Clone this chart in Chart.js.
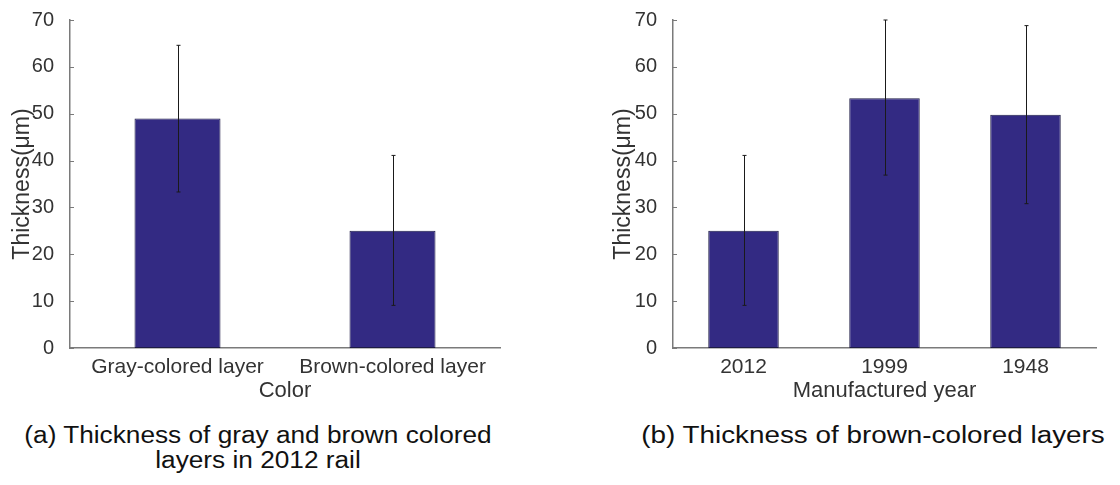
<!DOCTYPE html>
<html>
<head>
<meta charset="utf-8">
<script src="https://cdn.jsdelivr.net/npm/chart.js@4/dist/chart.umd.min.js"></script>
<style>
  body { margin: 0; background: #fff; }
  #page { position: relative; width: 1120px; height: 485px; overflow: hidden; font-family: "Liberation Sans", Arial, sans-serif; }
  .box { position: absolute; top: 0; height: 410px; }
  .cap { position: absolute; color: #111; font-size: 23px; line-height: 25px; text-align: center; white-space: nowrap; transform: scaleX(1.14); }
</style>
</head>
<body>
<div id="page">
  <div class="box" style="left:0; width:510px;"><canvas id="chartA"></canvas></div>
  <div class="box" style="left:590px; width:530px;"><canvas id="chartB"></canvas></div>
  <div class="cap" style="left:0; width:516px; top:423px;">(a) Thickness of gray and brown colored<br>layers in 2012 rail</div>
  <div class="cap" style="left:646px; width:454px; top:423px; transform: scaleX(1.21);">(b) Thickness of brown-colored layers</div>
</div>
<script>
// ===== data =====
const colorCats  = ['Gray-colored layer', 'Brown-colored layer'];
const colorMeans = [49.0, 25.0];
const colorLow   = [33.3, 9.1];
const colorHigh  = [64.6, 41.1];

const yearCats  = ['2012', '1999', '1948'];
const yearMeans = [25.0, 53.3, 49.8];
const yearLow   = [9.1, 36.9, 30.8];
const yearHigh  = [41.1, 70.0, 68.8];

const yMin = 0, yMax = 70, yStep = 10;

const FONT = '"Liberation Sans", Arial, sans-serif';
const BAR_FILL = '#332a83';
const BAR_EDGE = '#1d1b45';
const AXIS_COL = '#7a7a7a';
const TEXT_COL = '#333';

// error bars, drawn on top of the bars
function errorBars(lows, highs) {
  return {
    id: 'errorBars',
    afterDatasetsDraw(chart) {
      const { ctx, scales: { y } } = chart;
      const bars = chart.getDatasetMeta(0).data;
      ctx.save();
      ctx.strokeStyle = '#1a1a1a';
      ctx.lineWidth = 1;
      bars.forEach((bar, i) => {
        const x = Math.round(bar.x) + 0.5;
        const yt = y.getPixelForValue(highs[i]);
        const yb = y.getPixelForValue(lows[i]);
        ctx.beginPath();
        ctx.moveTo(x, yt); ctx.lineTo(x, yb);
        ctx.moveTo(x - 2, yt); ctx.lineTo(x + 2, yt);
        ctx.moveTo(x - 2, yb); ctx.lineTo(x + 2, yb);
        ctx.stroke();
      });
      ctx.restore();
    }
  };
}

// small tick marks pointing into the plot
const inwardTicks = {
  id: 'inwardTicks',
  afterDraw(chart) {
    const { ctx, scales: { y } } = chart;
    ctx.save();
    ctx.strokeStyle = AXIS_COL;
    ctx.lineWidth = 1;
    y.ticks.forEach(t => {
      const py = Math.round(y.getPixelForValue(t.value)) + 0.5;
      ctx.beginPath();
      ctx.moveTo(y.right, py); ctx.lineTo(y.right + 4, py);
      ctx.stroke();
    });
    ctx.restore();
  }
};

function makeChart(id, cats, means, lows, highs, opts) {
  const ctx = document.getElementById(id).getContext('2d');
  return new Chart(ctx, {
    type: 'bar',
    data: {
      labels: cats,
      datasets: [{
        data: means,
        backgroundColor: BAR_FILL,
        borderColor: BAR_EDGE,
        borderWidth: 1,
        borderSkipped: false,
        categoryPercentage: 1.0,
        barPercentage: opts.barPct
      }]
    },
    options: {
      responsive: true,
      maintainAspectRatio: false,
      animation: false,
      layout: { padding: { top: opts.padTop, right: opts.padRight, left: 0, bottom: 0 } },
      plugins: { legend: { display: false }, tooltip: { enabled: false } },
      scales: {
        x: {
          grid: { display: false },
          border: { display: true, color: AXIS_COL, width: 1.5 },
          ticks: { color: TEXT_COL, font: { family: FONT, size: 21 }, padding: -1, maxRotation: 0, autoSkip: false },
          title: { display: true, text: opts.xTitle, color: TEXT_COL, font: { family: FONT, size: 22 }, padding: { top: 0, bottom: 6 } },
          afterFit: s => { s.height = 62; }
        },
        y: {
          min: yMin, max: yMax,
          grid: { display: false },
          border: { display: true, color: AXIS_COL, width: 1.5 },
          ticks: { stepSize: yStep, color: TEXT_COL, font: { family: FONT, size: 20 }, padding: 8 },
          title: { display: true, text: 'Thickness(μm)', color: TEXT_COL, font: { family: FONT, size: 23 }, padding: { top: opts.titlePad, bottom: 0 } },
          afterFit: s => { s.width = opts.yWidth; }
        }
      }
    },
    plugins: [errorBars(lows, highs), inwardTicks]
  });
}

makeChart('chartA', colorCats, colorMeans, colorLow, colorHigh,
  { barPct: 0.4, padTop: 17, padRight: 10, yWidth: 70, titlePad: 9, xTitle: 'Color' });

makeChart('chartB', yearCats, yearMeans, yearLow, yearHigh,
  { barPct: 0.5, padTop: 18, padRight: 24, yWidth: 83, titlePad: 20, xTitle: 'Manufactured year' });
</script>
</body>
</html>
